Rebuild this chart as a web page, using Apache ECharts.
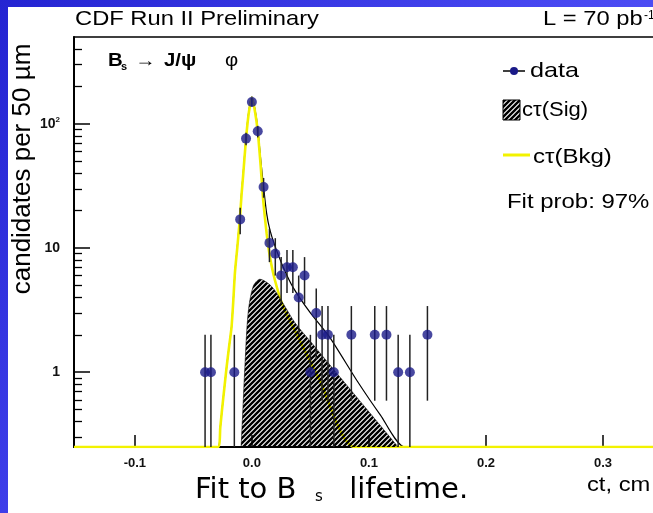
<!DOCTYPE html>
<html>
<head>
<meta charset="utf-8">
<script src="https://cdn.jsdelivr.net/npm/echarts@6/dist/echarts.min.js"></script>
<style>
html,body{margin:0;padding:0;background:#3a3ae8;}
#c{width:653px;height:513px;}
</style>
</head>
<body>
<div id="c"></div>
<script>
// ---- data ----
const dataX = [-0.040, -0.035, -0.015, -0.010, -0.005, 0.000, 0.005, 0.010, 0.015, 0.020, 0.025, 0.030, 0.035, 0.040, 0.045, 0.050, 0.055, 0.060, 0.065, 0.070, 0.085, 0.105, 0.115, 0.125, 0.135, 0.150];
const dataY = [1, 1, 1, 17, 76, 150, 87, 31, 11, 9, 6, 7, 7, 4, 6, 1, 3, 2, 2, 1, 2, 2, 2, 1, 1, 2];
const dataErr = [1, 1, 1, 4.1, 8.7, 12.2, 9.3, 5.6, 3.3, 3.0, 2.45, 2.65, 2.65, 2.0, 2.45, 1, 1.73, 1.41, 1.41, 1, 1.41, 1.41, 1.41, 1, 1, 1.41];

const bkgX = [-0.152, -0.029, -0.027, -0.0255, -0.0235, -0.0216, -0.0195, -0.0174, -0.016, -0.0145, -0.0125, -0.0103, -0.0088, -0.0075, -0.005, -0.0025, 0.0, 0.0025, 0.005, 0.0075, 0.0097, 0.0126, 0.0154, 0.0197, 0.0268, 0.0353, 0.058, 0.088, 0.40];
const bkgY = [0.25, 0.25, 0.36, 0.5, 0.75, 1.1, 1.6, 2.3, 3.6, 6.3, 10, 17, 27, 38, 76, 125, 162, 128, 87, 46, 24, 13.1, 8.5, 5.5, 3.36, 2.3, 0.86, 0.25, 0.25];

const sigX = [-0.0092, -0.0075, -0.006, -0.0032, 0.0011, 0.0068, 0.0169, 0.0265, 0.0368, 0.050, 0.075, 0.100, 0.1249];
const sigY = [0.25, 0.55, 1.1, 3.0, 4.9, 5.6, 4.9, 3.6, 2.5, 1.77, 0.92, 0.48, 0.25];

const totX = [-0.152, -0.029, -0.027, -0.0255, -0.0235, -0.0216, -0.0195, -0.0174, -0.016, -0.0145, -0.0125, -0.0103, -0.0088, -0.0075, -0.005, -0.0025, 0.0, 0.0025, 0.005, 0.0075, 0.010, 0.0126, 0.0154, 0.0197, 0.0268, 0.0353, 0.050, 0.0667, 0.090, 0.110, 0.1307, 0.40];
const totY = [0.25, 0.25, 0.36, 0.5, 0.75, 1.1, 1.6, 2.3, 3.6, 6.3, 10.2, 17.5, 28, 39, 78, 129, 166, 133, 93, 52, 31, 19, 14, 10.4, 7.0, 4.8, 3.0, 1.9, 0.85, 0.45, 0.25, 0.25];

const xTicks = [-0.1, 0.0, 0.1, 0.2, 0.3];
const yMajorTicks = [1, 10, 100];
const yMinorTicks = [0.3, 0.4, 0.5, 0.6, 0.7, 0.8, 0.9, 2, 3, 4, 5, 6, 7, 8, 9, 20, 30, 40, 50, 60, 70, 80, 90, 200, 300, 400];

const FONT = '"Liberation Sans", Arial, Helvetica, sans-serif';
const CAPFONT = '"DejaVu Sans", Verdana, sans-serif';

function makeHatch() {
  const c = document.createElement('canvas');
  c.width = 5; c.height = 5;
  const g = c.getContext('2d');
  g.strokeStyle = '#000';
  g.lineWidth = 2.4;
  g.beginPath();
  g.moveTo(-1, 6); g.lineTo(6, -1);
  g.moveTo(-1, 1); g.lineTo(1, -1);
  g.moveTo(4, 6); g.lineTo(6, 4);
  g.stroke();
  return c;
}
const hatch = { image: makeHatch(), repeat: 'repeat' };

const zip = (xs, ys) => xs.map((x, i) => [x, ys[i]]);

const chart = echarts.init(document.getElementById('c'), null, { renderer: 'canvas' });

function txt(text, x, y, size, opts) {
  opts = opts || {};
  return {
    type: 'text', x: x, y: y, z: 50, scaleX: opts.scaleX || 1, rotation: opts.rotation || 0,
    style: {
      text: text, fill: opts.color || '#000',
      font: (opts.weight || 'normal') + ' ' + size + 'px ' + (opts.family || FONT),
      textAlign: opts.align || 'left', textVerticalAlign: opts.valign || 'middle'
    }
  };
}

const option = {
  animation: false,
  backgroundColor: {
    type: 'linear', x: 0, y: 0, x2: 1, y2: 1,
    colorStops: [{ offset: 0, color: '#2424d2' }, { offset: 0.5, color: '#4646f0' }, { offset: 1, color: '#6060ff' }]
  },
  grid: {
    left: 74, top: 37, bottom: 66, right: -67,
    show: true, borderColor: '#000', borderWidth: 1.5, backgroundColor: 'transparent',
    containLabel: false, outerBoundsMode: 'none'
  },
  xAxis: {
    type: 'value', min: -0.152, max: 0.40,
    axisLine: { show: true, onZero: false, lineStyle: { color: '#000', width: 2 } },
    axisTick: { show: true, inside: true, length: 12, customValues: xTicks, lineStyle: { color: '#000', width: 1.5 } },
    axisLabel: {
      customValues: xTicks, formatter: v => (Math.round(v * 10) / 10).toFixed(1),
      fontSize: 13, fontWeight: 'bold', color: '#111', margin: 10, fontFamily: FONT
    },
    splitLine: { show: false }
  },
  yAxis: [
    {
      type: 'log', logBase: 10, min: 0.25, max: 500, position: 'left',
      axisLine: { show: true, onZero: false, lineStyle: { color: '#000', width: 2 } },
      axisTick: { show: true, inside: true, length: 16, customValues: yMajorTicks, lineStyle: { color: '#000', width: 1.5 } },
      axisLabel: {
        customValues: yMajorTicks, margin: 14, color: '#111', fontFamily: FONT,
        fontSize: 14, fontWeight: 'bold',
        formatter: v => { const r = Math.round(v); return r === 100 ? '{n|10}{e|2}' : String(r); },
        rich: { n: { fontSize: 14, fontWeight: 'bold', fontFamily: FONT, color: '#111' }, e: { fontSize: 8, fontWeight: 'bold', fontFamily: FONT, color: '#111', padding: [0, 0, 9, 0] } }
      },
      splitLine: { show: false }
    },
    {
      type: 'log', logBase: 10, min: 0.25, max: 500, position: 'left', offset: 0,
      axisLine: { show: false, onZero: false },
      axisTick: { show: true, inside: true, length: 8, customValues: yMinorTicks, lineStyle: { color: '#000', width: 1.3 } },
      axisLabel: { show: false },
      splitLine: { show: false }
    }
  ],
  graphic: [
    { type: 'rect', shape: { x: 8, y: 7, width: 645, height: 506 }, style: { fill: '#ffffff' }, z: -100 },
    txt('CDF Run II Preliminary', 75, 30, 21, { scaleX: 1.13, valign: 'bottom' }),
    txt('L = 70 pb', 543, 30, 21, { scaleX: 1.13, valign: 'bottom' }),
    txt('-1', 644, 22, 12, { valign: 'bottom' }),
    txt('candidates per 50 µm', 23, 169, 26, { rotation: Math.PI / 2, align: 'center' }),
    txt('B', 108, 61, 18, { weight: 'bold', scaleX: 1.13 }),
    txt('s', 121, 67, 11, { weight: 'bold' }),
    txt('→', 135, 61, 18, { scaleX: 1.13 }),
    txt('J/ψ', 164, 61, 18, { weight: 'bold', scaleX: 1.13 }),
    txt('φ', 225, 61, 18, { scaleX: 1.13 }),
    // legend
    { type: 'line', shape: { x1: 503, y1: 71, x2: 525, y2: 71 }, style: { stroke: '#000', lineWidth: 1.5 }, z: 50 },
    { type: 'circle', shape: { cx: 514, cy: 71, r: 4 }, style: { fill: '#1a1a88' }, z: 51 },
    txt('data', 530, 71, 21, { scaleX: 1.2 }),
    { type: 'rect', shape: { x: 503, y: 100, width: 17, height: 20 }, style: { fill: hatch, stroke: '#000', lineWidth: 1 }, z: 50 },
    txt('cτ(Sig)', 522, 110, 20, { scaleX: 1.1 }),
    { type: 'line', shape: { x1: 503, y1: 155, x2: 530, y2: 155 }, style: { stroke: '#f2f200', lineWidth: 3 }, z: 50 },
    txt('cτ(Bkg)', 533, 157, 20, { scaleX: 1.2 }),
    txt('Fit prob: 97%', 507, 202, 21, { scaleX: 1.14 }),
    // captions
    txt('Fit to B', 195, 505, 29, { family: CAPFONT, valign: 'bottom' }),
    txt('s', 315, 505, 15, { family: CAPFONT, valign: 'bottom' }),
    txt(' lifetime.', 340, 505, 29, { family: CAPFONT, valign: 'bottom' }),
    txt('ct, cm', 587, 496, 21, { scaleX: 1.13, valign: 'bottom' })
  ],
  series: [
    {
      name: 'cτ(Sig)', type: 'line', data: zip(sigX, sigY), showSymbol: false, symbol: 'none',
      smooth: 0.3, clip: true, z: 4,
      lineStyle: { color: '#000', width: 0.6 },
      areaStyle: { color: hatch, origin: 'start', opacity: 1 }
    },
    {
      name: 'total', type: 'line', data: zip(totX, totY), symbol: 'none', smooth: 0.2, clip: true, z: 2,
      lineStyle: { color: '#000', width: 1.2 }
    },
    {
      name: 'cτ(Bkg)', type: 'line', data: zip(bkgX, bkgY), symbol: 'none', smooth: 0.2, clip: true, z: 3,
      lineStyle: { color: '#f2f200', width: 2.6 }
    },
    {
      name: 'errors', type: 'custom', clip: true, z: 5,
      data: dataX.map((x, i) => [x, dataY[i], dataErr[i]]),
      encode: { x: 0, y: 1 },
      renderItem: function (params, api) {
        const x = api.value(0), y = api.value(1), e = api.value(2);
        const cs = params.coordSys;
        const bottom = cs.y + cs.height;
        const top = api.coord([x, y + e]);
        const lo = y - e;
        let by = lo > 0 ? api.coord([x, lo])[1] : bottom;
        if (!(by <= bottom)) by = bottom;
        return { type: 'line', shape: { x1: top[0], y1: Math.max(top[1], cs.y), x2: top[0], y2: by }, style: { stroke: '#222', lineWidth: 1.5 } };
      }
    },
    {
      name: 'data', type: 'scatter', data: zip(dataX, dataY), symbol: 'circle', symbolSize: 10, z: 6,
      itemStyle: { color: '#1a1a88' }
    }
  ]
};
chart.setOption(option);
</script>
</body>
</html>
